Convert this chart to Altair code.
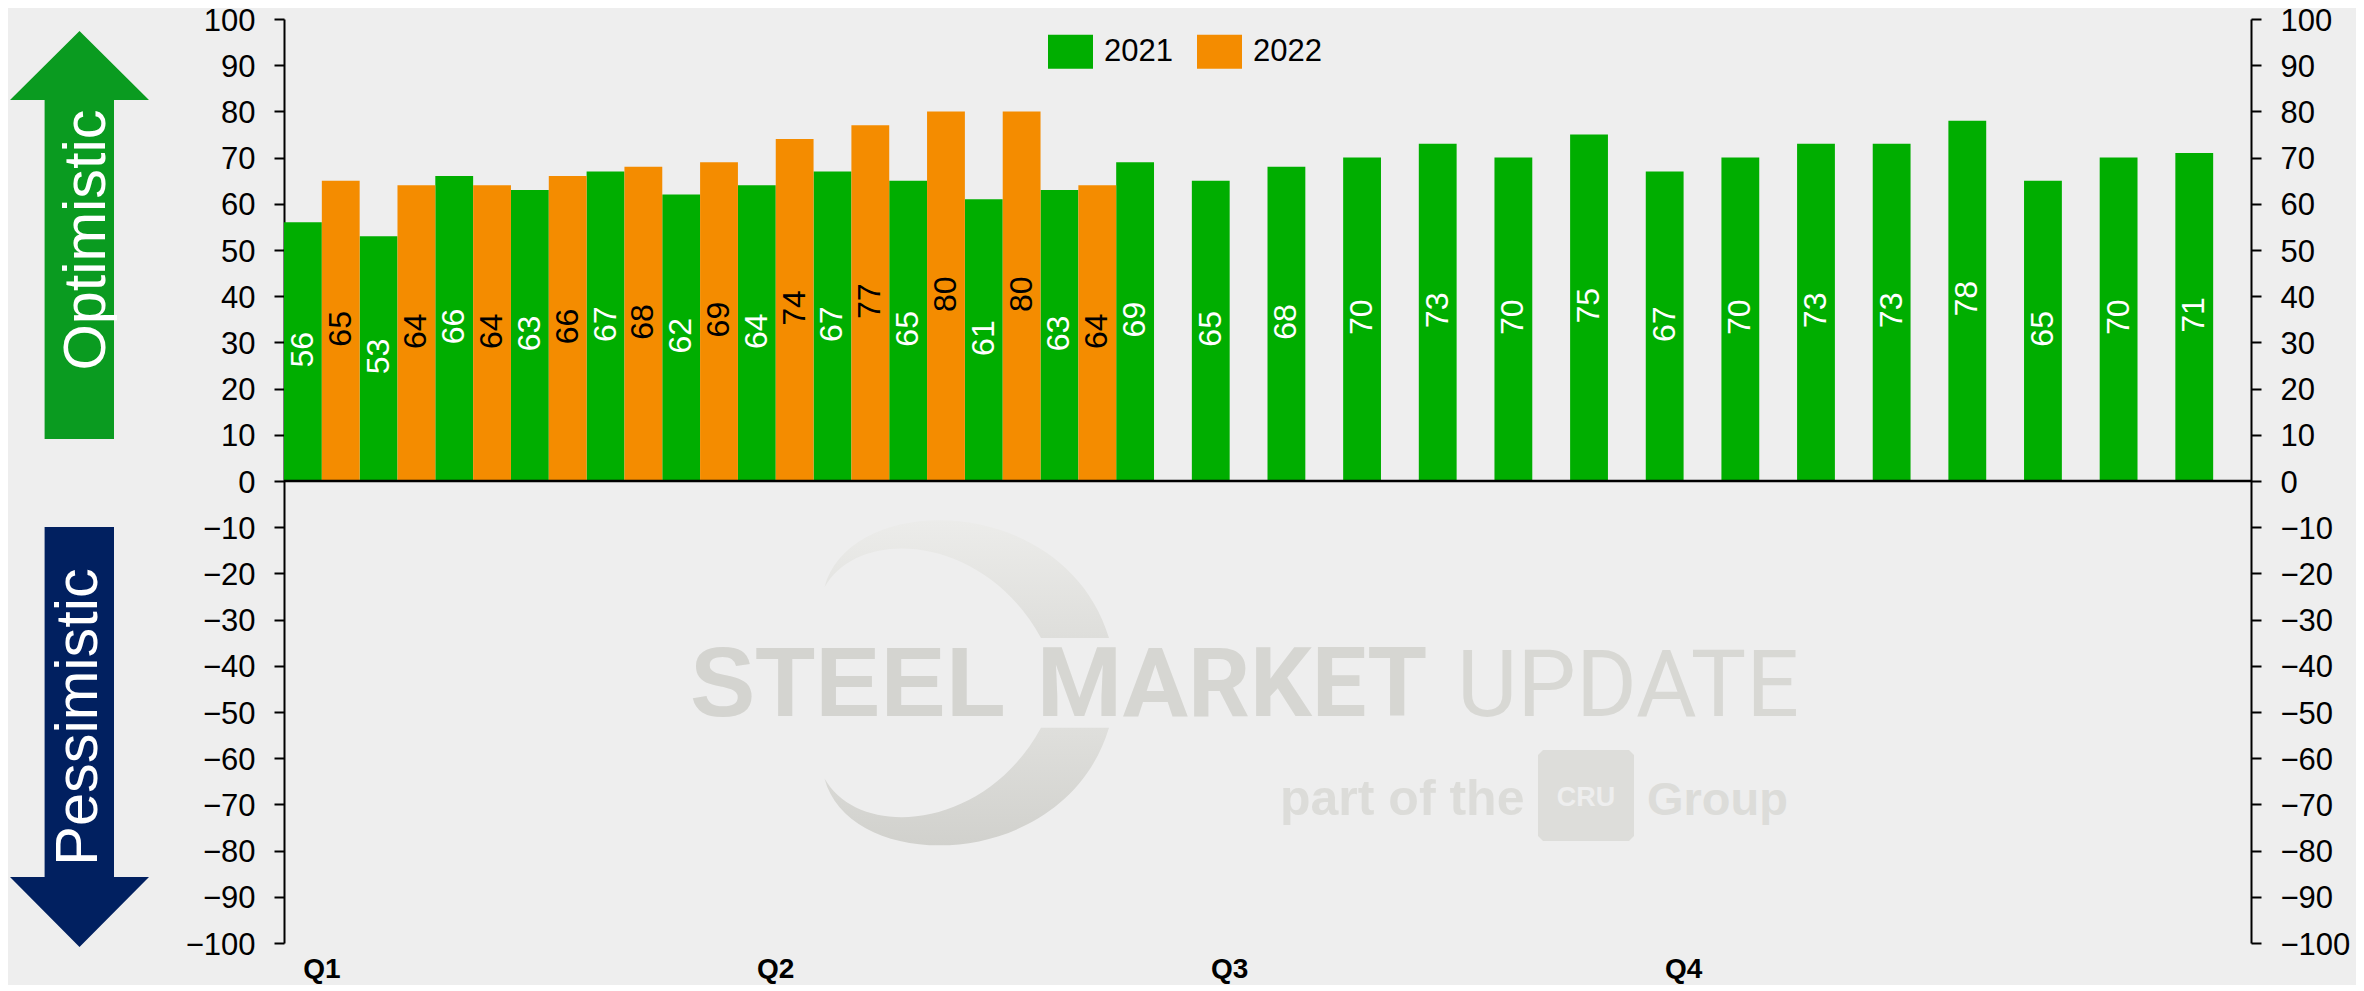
import altair as alt
import pandas as pd

weeks = list(range(1, 27))
values_2021 = [56, 53, 66, 63, 67, 62, 64, 67, 65, 61, 63, 69, 65, 68, 70, 73, 70, 75, 67, 70, 73, 73, 78, 65, 70, 71]
values_2022 = [65, 64, 64, 66, 68, 69, 74, 77, 80, 80, 64]
quarter_weeks = [1, 7, 13, 19]
quarter_labels = ["Q1", "Q2", "Q3", "Q4"]
y_ticks = list(range(-100, 101, 10))
series = ["2021", "2022"]
series_colors = ["#00AE00", "#F48C00"]

FONT = "Liberation Sans"
BG = "#EEEEEE"
LEFT, TOP, W, H = 284, 19, 1967, 924

rows = [{"week": w, "year": "2021", "value": v} for w, v in zip(weeks, values_2021)]
rows += [{"week": w, "year": "2022", "value": v} for w, v in zip(weeks, values_2022)]
df = pd.DataFrame(rows)
one = pd.DataFrame({"a": [0]})
quarters = pd.DataFrame({"week": quarter_weeks, "label": quarter_labels})

y_scale = alt.Scale(domain=[-100, 100], nice=False, zero=False)
x_scale = alt.Scale(paddingInner=0, paddingOuter=0, domain=weeks)
off_scale = alt.Scale(domain=series, paddingInner=0, paddingOuter=0)


def px(x):
    return x - LEFT


def py(y):
    return y - TOP


def shape(points):
    return "M" + "L".join(f"{px(x):.1f},{py(y):.1f}" for x, y in points) + "Z"


def deco(path, fill):
    return alt.Chart(one).mark_point(shape=path, size=4, filled=True, fill=fill, opacity=1, strokeWidth=0).encode(
        x=alt.value(0), y=alt.value(0)
    )


def caption(text, x, y, size, color, weight="normal", font=FONT, angle=0, align="left"):
    return alt.Chart(one).mark_text(
        text=text, font=font, fontSize=size, fontWeight=weight, color=color,
        angle=angle, align=align, baseline="alphabetic",
    ).encode(x=alt.value(px(x)), y=alt.value(py(y)))


def grad(a, b):
    return alt.LinearGradient(
        gradient="linear", x1=0, y1=0, x2=0, y2=1,
        stops=[alt.GradientStop(color=a, offset=0), alt.GradientStop(color=b, offset=1)],
    )


def crescent(m):
    f = (lambda y: y) if m is None else (lambda y: m - y)
    return (
        f"M{px(824.5)},{py(f(587.3))}C{px(850)},{py(f(490))} {px(1065)},{py(f(492))} {px(1109)},{py(f(638))}"
        f"L{px(1041)},{py(f(638))}C{px(985)},{py(f(535))} {px(860)},{py(f(525))} {px(824.5)},{py(f(587.3))}Z"
    )


up_arrow = [(79.5, 31), (149, 100), (114, 100), (114, 439), (44.6, 439), (44.6, 100), (10, 100)]
down_arrow = [(44.6, 527), (114, 527), (114, 877), (149, 877), (79.5, 947), (10, 877), (44.6, 877)]
cru_corners = [(1543, 750), (1629, 750), (1634, 755), (1634, 836), (1629, 841), (1543, 841), (1538, 836), (1538, 755)]

decorations = [
    deco(crescent(None), grad("#ECECEA", "#DEDEDB")),
    deco(crescent(1365.7), grad("#DFDFDC", "#D1D1CD")),
    caption("STEEL", 690, 716, 98, "#D4D4D0", "bold"),
    caption("MARKET", 1037, 716, 97, "#D6D6D2", "bold", "Roboto"),
    caption("UPDATE", 1457, 716, 93, "#D8D8D4", "normal", "Roboto"),
    caption("part of the", 1280, 815, 50, "#DCDCD9", "bold"),
    deco(shape(cru_corners), "#DDDDDA"),
    caption("CRU", 1586, 806, 27, BG, "bold", align="center"),
    caption("Group", 1647, 815, 47, "#DCDCD9", "bold"),
    deco(shape(up_arrow), "#0A9B20"),
    deco(shape(down_arrow), "#012060"),
    caption("Optimistic", 105, 240, 59.5, "white", angle=270, align="center"),
    caption("Pessimistic", 97, 717, 59.5, "white", angle=270, align="center"),
]

axis_common = dict(
    values=y_ticks, grid=False, labelFont=FONT, labelFontSize=31, labelColor="black",
    tickSize=10, tickWidth=2, tickColor="black", domainWidth=2, domainColor="black",
    labelPadding=19, labelOffset=2, title=None,
)

x_plain = alt.X("week:O", scale=x_scale, axis=None)
offset = alt.XOffset("year:N", scale=off_scale)

bars = alt.Chart(df).mark_bar(strokeWidth=0).encode(
    x=x_plain,
    xOffset=offset,
    y=alt.Y("value:Q", scale=y_scale, axis=alt.Axis(orient="left", **axis_common)),
    y2=alt.datum(0),
    color=alt.Color(
        "year:N",
        scale=alt.Scale(domain=series, range=series_colors),
        legend=alt.Legend(
            title=None, orient="none", legendX=764, legendY=10, direction="horizontal", columns=2,
            symbolType="M-1,-0.756H1V0.756H-1Z", symbolSize=2025, symbolStrokeWidth=0, symbolOpacity=1,
            labelFont=FONT, labelFontSize=31, labelColor="black", labelOffset=11, columnPadding=24, padding=0,
        ),
    ),
)


def bar_labels(year, color):
    return alt.Chart(df).transform_filter(f"datum.year=='{year}'").transform_calculate(
        mid="datum.value/2"
    ).mark_text(font=FONT, fontSize=32, color=color, angle=270, align="center", baseline="middle", dx=2).encode(
        x=x_plain,
        xOffset=offset,
        y=alt.Y("mid:Q", scale=y_scale, axis=None),
        text=alt.Text("value:Q"),
    )


zero_line = alt.Chart(pd.DataFrame({"zero": [0]})).mark_rule(color="black", strokeWidth=2.5).encode(
    y=alt.Y("zero:Q", scale=y_scale, axis=None)
)
right_axis = alt.Chart(pd.DataFrame({"zero": [0]})).mark_rule(opacity=0).encode(
    y=alt.Y("zero:Q", scale=y_scale, axis=alt.Axis(orient="right", **axis_common))
)
quarter_text = alt.Chart(quarters).mark_text(
    font=FONT, fontSize=28, fontWeight="bold", color="black", align="center", baseline="alphabetic"
).encode(x=x_plain, y=alt.value(py(978)), text="label:N")

chart = alt.layer(
    *decorations, bars, bar_labels("2021", "white"), bar_labels("2022", "black"), zero_line, right_axis, quarter_text
).resolve_scale(y="independent").properties(
    width=W, height=H,
    background=BG,
    autosize=alt.AutoSizeParams(type="none"),
    padding={"left": LEFT - 8, "top": TOP - 8, "right": 2348 - (LEFT - 8) - W, "bottom": 42},
).configure_view(stroke=None)

chart.save("out.html", embed_options={"renderer": "svg", "actions": False})
